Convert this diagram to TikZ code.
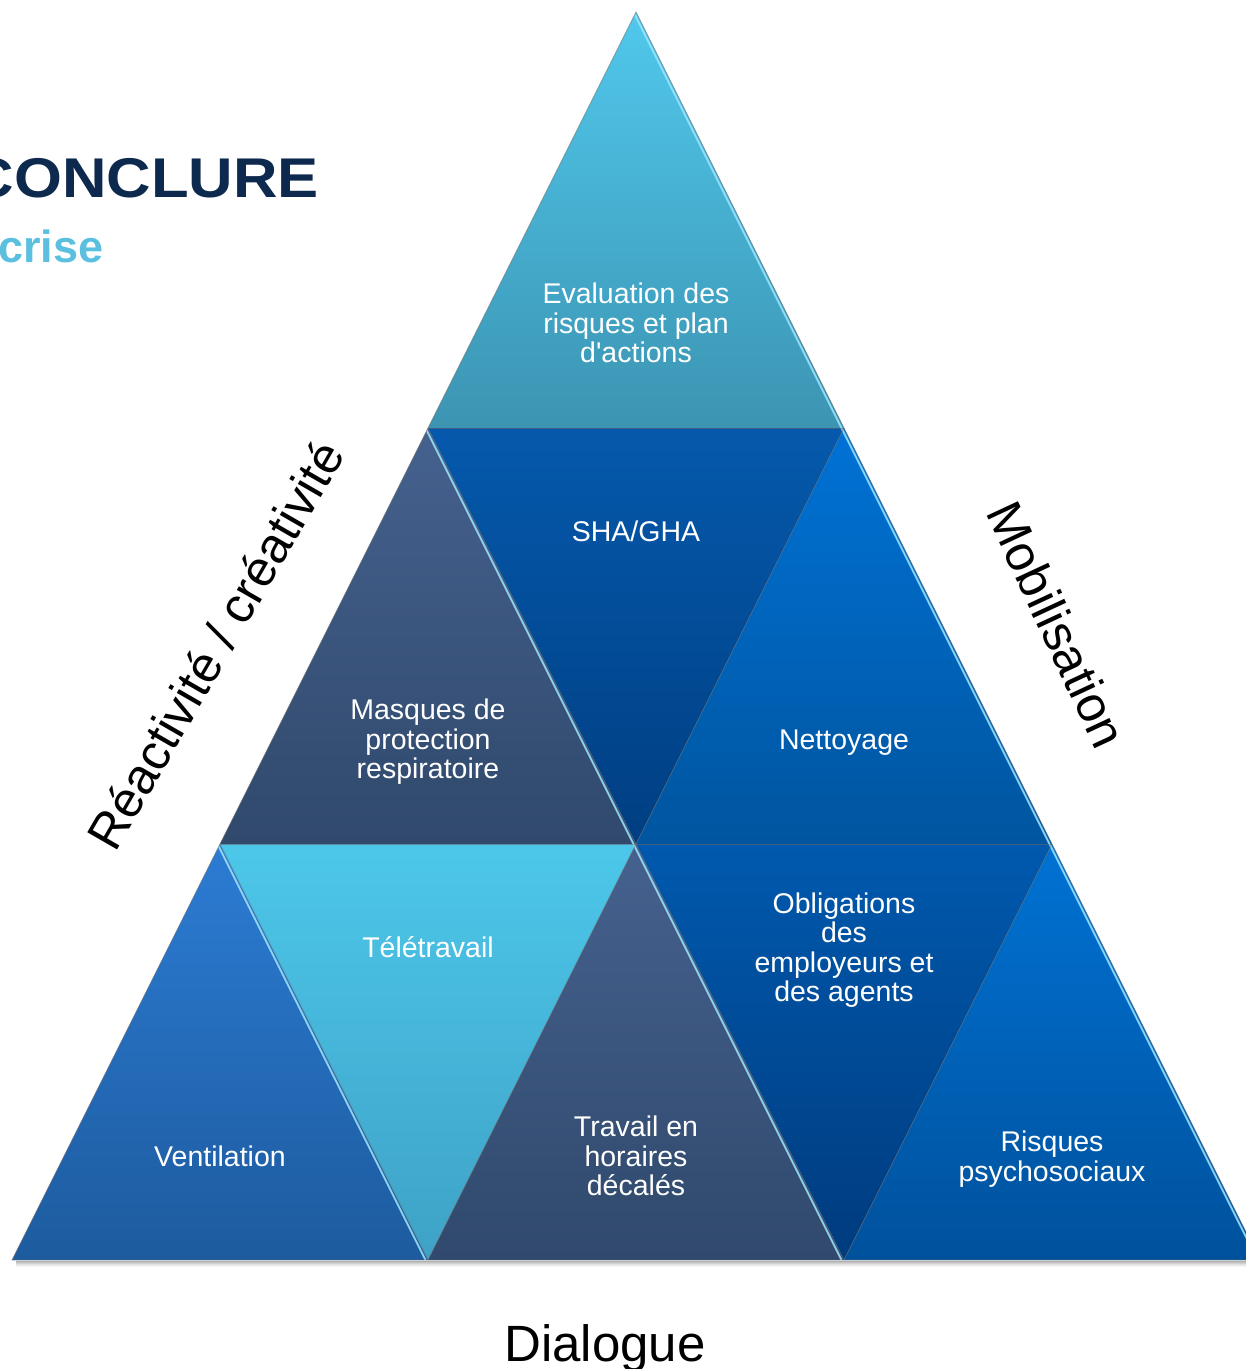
\documentclass[tikz,border=0pt]{standalone}
\usepackage{fontspec}
\setmainfont{Liberation Sans}[Ligatures=TeXOff]
\definecolor{topA}{HTML}{50C8EC}
\definecolor{topB}{HTML}{3C94B2}
\definecolor{slateA}{HTML}{45618E}
\definecolor{slateB}{HTML}{30496C}
\definecolor{shaA}{HTML}{0559AC}
\definecolor{shaB}{HTML}{003E82}
\definecolor{netA}{HTML}{0072D6}
\definecolor{netB}{HTML}{00559F}
\definecolor{venA}{HTML}{2C7CD4}
\definecolor{venB}{HTML}{1D5B9E}
\definecolor{telA}{HTML}{4CC7EA}
\definecolor{telB}{HTML}{3EA2C6}
\definecolor{oblA}{HTML}{0059AE}
\definecolor{oblB}{HTML}{003B7E}
\definecolor{risA}{HTML}{0072D4}
\definecolor{risB}{HTML}{00519C}
\definecolor{navy}{HTML}{0D294D}
\definecolor{crisec}{HTML}{5BBFE0}
\definecolor{hlc}{HTML}{9BE6FF}
\begin{document}
\begin{tikzpicture}[x=1pt,y=-1pt,
  lbl/.style={text=white, align=center, inner sep=0pt,
    font=\fontsize{28.5}{29.5}\selectfont},
  sidelbl/.style={text=black, inner sep=0pt,
    font=\fontsize{50}{56}\selectfont},
  edgeline/.style={draw=black!60, draw opacity=0.55, line width=0.8pt},
  hl/.style={draw=hlc, line width=1.8pt, draw opacity=0.85}]
\useasboundingbox (0,0) rectangle (1246,1369);
\clip (0,0) rectangle (1246,1369);

\coordinate (A) at (636,12);
\coordinate (B1) at (428,428);
\coordinate (B2) at (844,428);
\coordinate (C1) at (220,844);
\coordinate (C2) at (636,844);
\coordinate (C3) at (1052,844);
\coordinate (D1) at (12,1260);
\coordinate (D2) at (428,1260);
\coordinate (D3) at (844,1260);
\coordinate (D4) at (1260,1260);

% base shadow
\foreach \i/\o in {1/0.30,2/0.24,3/0.18,4/0.12,5/0.07,6/0.04}
  \draw[black, opacity=\o, line width=1pt] (16,1260+\i) -- (1256,1260+\i);

% triangles
\path[top color=topA, bottom color=topB] (A) -- (B1) -- (B2) -- cycle;
\path[top color=slateA, bottom color=slateB] (B1) -- (C1) -- (C2) -- cycle;
\path[top color=shaA, bottom color=shaB] (B1) -- (B2) -- (C2) -- cycle;
\path[top color=netA, bottom color=netB] (B2) -- (C2) -- (C3) -- cycle;
\path[top color=venA, bottom color=venB] (C1) -- (D1) -- (D2) -- cycle;
\path[top color=telA, bottom color=telB] (C1) -- (C2) -- (D2) -- cycle;
\path[top color=slateA, bottom color=slateB] (C2) -- (D2) -- (D3) -- cycle;
\path[top color=oblA, bottom color=oblB] (C2) -- (C3) -- (D3) -- cycle;
\path[top color=risA, bottom color=risB] (C3) -- (D3) -- (D4) -- cycle;

% bevel highlights along the down-right edges
\begin{scope}
  \clip (A) -- (D1) -- (D4) -- cycle;
  \draw[hl] ([xshift=-2.5pt]A) -- ([xshift=-2.5pt]D4);
  \draw[hl] ([xshift=-2.5pt]B1) -- ([xshift=-2.5pt]D3);
  \draw[hl] ([xshift=-2.5pt]C1) -- ([xshift=-2.5pt]D2);
\end{scope}

% edges
\draw[edgeline] (A) -- (D1) -- (D4) -- cycle;
\draw[edgeline] (B1) -- (B2);
\draw[edgeline] (C1) -- (C3);
\draw[edgeline] (B1) -- (D3);
\draw[edgeline] (C1) -- (D2);
\draw[edgeline] (B2) -- (D2);
\draw[edgeline] (C3) -- (D3);

% labels in triangles
\node[lbl] (evaluation) at (636,323) {Evaluation des\\risques et plan\\d'actions};
\node[lbl] (sha) at (636,531) {SHA/GHA};
\node[lbl] (masques) at (428,742) {Masques de\\protection\\respiratoire};
\node[lbl] (nettoyage) at (844,743) {Nettoyage};
\node[lbl] (teletravail) at (428,947) {Télétravail};
\node[lbl] (ventilation) at (220,1156) {Ventilation};
\node[lbl] (travail) at (636,1156) {Travail en\\horaires\\décalés};
\node[lbl] (obligations) at (844,950) {Obligations\\des\\employeurs et\\des agents};
\node[lbl] (risques) at (1052,1159) {Risques\\psychosociaux};

% side labels
\node[sidelbl, rotate=60] (reactivite) at (215,645) {Réactivité / créativité};
\node[sidelbl, rotate=-65] (mobilisation) at (1057,625) {Mobilisation};
\node[sidelbl, font=\fontsize{51}{56}\selectfont, anchor=base] (dialogue) at (605,1361) {Dialogue};

% title
\node[anchor=base east, inner sep=0pt, text=navy,
  font=\fontsize{56}{60}\selectfont\bfseries] (title) at (319,197)
  {\scalebox{1.1}[1]{CONCLURE}};
\node[anchor=base west, inner sep=0pt, text=crisec,
  font=\fontsize{45}{50}\selectfont\bfseries] (crise) at (-2,262) {crise};
\end{tikzpicture}
\end{document}
